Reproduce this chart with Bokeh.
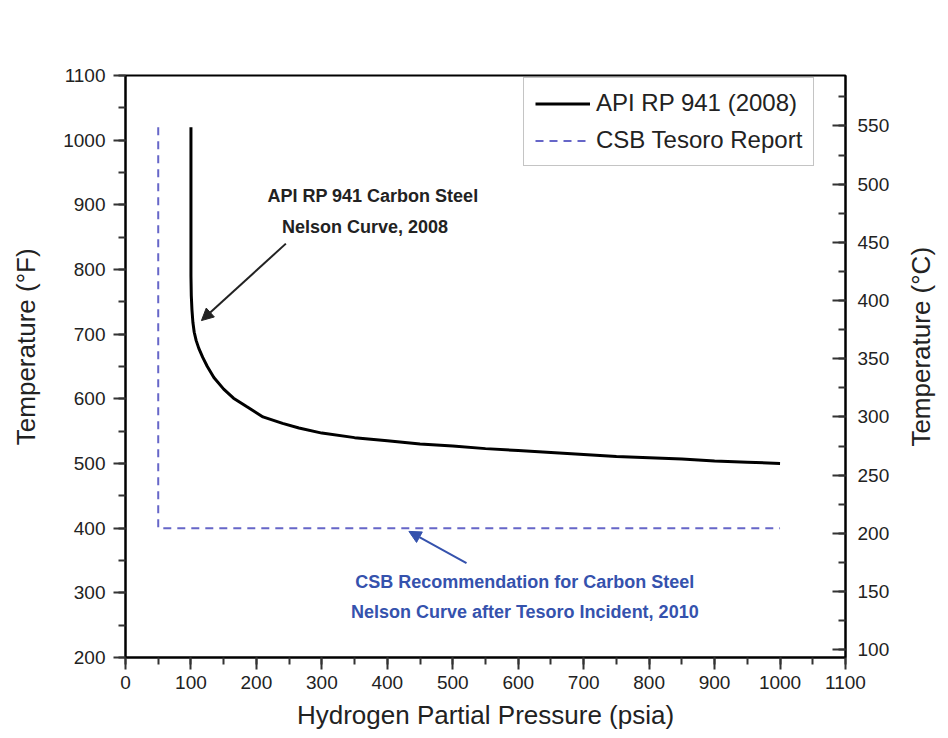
import math
from bokeh.plotting import figure
from bokeh.layouts import row
from bokeh.models import (Range1d, LinearAxis, SingleIntervalTicker, Label, Arrow,
                          NormalHead)
from bokeh.core.properties import value
from bokeh.embed import file_html
from bokeh.resources import INLINE

# API RP 941 (2008) carbon steel Nelson curve
api_psia = [100, 100, 100.5, 101.5, 103, 105, 108, 112, 118, 125, 135, 150, 165, 185,
            210, 240, 265, 300, 350, 400, 450, 500, 550, 600, 650, 700, 750, 800, 850,
            900, 950, 1000]
api_temp_f = [1020, 790, 760, 738, 718, 703, 690, 678, 664, 650, 633, 615, 601, 588,
              572, 562, 555, 547, 540, 535, 530, 527, 523, 520, 517, 514, 511, 509, 507,
              504, 502, 500]

# CSB recommendation after the Tesoro incident
csb_psia = [50, 50, 1000]
csb_temp_f = [1020, 400, 400]

FONT = "Liberation Sans"
TXT = "#222222"
H = 738
LEFT_W, RIGHT_W = 45, 48
MAIN_W = 948 - LEFT_W - RIGHT_W

p = figure(width=MAIN_W, height=H, output_backend="svg", toolbar_location=None,
           x_range=Range1d(0, 1100), y_range=Range1d(200, 1100),
           min_border_left=80, min_border_right=55, min_border_top=75,
           min_border_bottom=81, background_fill_color="white",
           border_fill_color="white")
p.grid.visible = False
p.outline_line_color = "black"
p.outline_line_width = 2

# Celsius scale on the right
f_to_c = lambda f: (f - 32) * 5.0 / 9.0
p.extra_y_ranges = {"c": Range1d(f_to_c(200), f_to_c(1100))}

xa = p.xaxis[0]
xa.ticker = SingleIntervalTicker(interval=100, num_minor_ticks=2)
xa.axis_label = "Hydrogen Partial Pressure (psia)"
ya = p.yaxis[0]
ya.ticker = SingleIntervalTicker(interval=100, num_minor_ticks=2)

ra = LinearAxis(y_range_name="c",
                ticker=SingleIntervalTicker(interval=50, num_minor_ticks=2))
p.add_layout(ra, "right")

for ax in (xa, ya, ra):
    ax.axis_line_width = 2
    ax.axis_line_color = "black"
    ax.major_tick_line_width = 2
    ax.minor_tick_line_width = 2
    ax.major_tick_line_color = "#333333"
    ax.minor_tick_line_color = "#333333"
    ax.major_label_text_font = FONT
    ax.major_label_text_font_size = "19px"
    ax.major_label_text_color = TXT
    ax.axis_label_text_font = FONT
    ax.axis_label_text_font_size = "26px"
    ax.axis_label_text_font_style = "normal"
    ax.axis_label_text_color = TXT

for ax in (xa, ya):
    ax.major_tick_in = 0
    ax.major_tick_out = 12
    ax.minor_tick_in = 0
    ax.minor_tick_out = 7
xa.major_label_standoff = 6
xa.axis_label_standoff = 8
ya.major_label_standoff = 8

ra.major_tick_in = 13
ra.major_tick_out = 0
ra.minor_tick_in = 7
ra.minor_tick_out = 0
ra.major_label_standoff = 12

# Curves
p.line(api_psia, api_temp_f, line_color="black", line_width=3,
       legend_label="API RP 941 (2008)")
p.line(csb_psia, csb_temp_f, line_color="#6666c8", line_width=2,
       line_dash="8 6", legend_label="CSB Tesoro Report")

leg = p.legend[0]
leg.location = (398, 491)
leg.label_text_font = FONT
leg.label_text_font_size = "24px"
leg.label_text_color = TXT
leg.glyph_width = 55
leg.glyph_height = 25
leg.label_height = 25
leg.label_standoff = 6
leg.padding = 11
leg.spacing = 9
leg.margin = 0
leg.border_line_color = "#8a8a8a"
leg.border_line_width = 1.5
leg.background_fill_alpha = 1

# Callouts
BLUE = "#3552ad"
p.add_layout(Label(x=378, y=914, text="API RP 941 Carbon Steel",
                   text_align="center", text_baseline="middle", text_font=FONT,
                   text_font_size="18px", text_font_style="bold", text_color="#222222"))
p.add_layout(Label(x=366, y=866, text="Nelson Curve, 2008",
                   text_align="center", text_baseline="middle", text_font=FONT,
                   text_font_size="18px", text_font_style="bold", text_color="#222222"))
p.add_layout(Arrow(x_start=245, y_start=840, x_end=116, y_end=721,
                   line_color="#222222", line_width=2,
                   end=NormalHead(size=12, fill_color="#222222", line_color="#222222")))

p.add_layout(Label(x=610, y=316, text="CSB Recommendation for Carbon Steel",
                   text_align="center", text_baseline="middle", text_font=FONT,
                   text_font_size="18px", text_font_style="bold", text_color=BLUE))
p.add_layout(Label(x=610, y=270, text="Nelson Curve after Tesoro Incident, 2010",
                   text_align="center", text_baseline="middle", text_font=FONT,
                   text_font_size="18px", text_font_style="bold", text_color=BLUE))
p.add_layout(Arrow(x_start=521, y_start=346, x_end=433, y_end=395,
                   line_color=BLUE, line_width=2,
                   end=NormalHead(size=12, fill_color=BLUE, line_color=BLUE)))


def title_strip(width, text, cx, cy):
    """Narrow side panel holding a vertical axis title that reads bottom-to-top."""
    s = figure(width=width, height=H, output_backend="svg", toolbar_location=None,
               x_range=Range1d(0, width), y_range=Range1d(0, H),
               x_axis_type=None, y_axis_type=None, min_border=0,
               min_border_left=0, min_border_right=0, min_border_top=0,
               min_border_bottom=0, outline_line_color=None,
               background_fill_color="white", border_fill_color="white")
    s.grid.visible = False
    s.text(x=[cx], y=[H - cy], text=[text], angle=math.pi / 2,
           text_align="center", text_baseline="middle",
           text_font=value(FONT), text_font_size="26px", text_color=TXT)
    return s


left_strip = title_strip(LEFT_W, "Temperature (°F)", 25, 344)
right_strip = title_strip(RIGHT_W, "Temperature (°C)", 20, 344)

layout = row(left_strip, p, right_strip, spacing=0)
open("out.html", "w").write(file_html(layout, INLINE))
